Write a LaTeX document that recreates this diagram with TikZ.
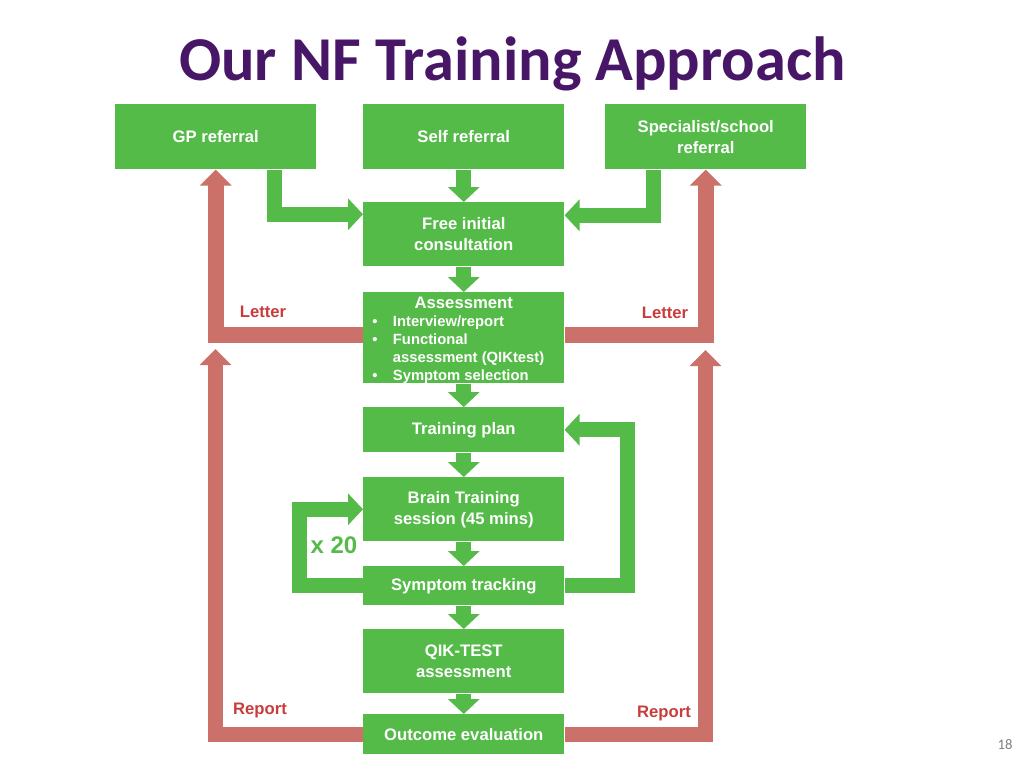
\documentclass[tikz,border=0pt]{standalone}
\usepackage{fontspec}
\setmainfont{Liberation Sans}
\newfontfamily\arialf{Liberation Sans}
\newfontfamily\calibf{Carlito}
\usetikzlibrary{arrows.meta}
\definecolor{ngreen}{RGB}{84,186,72}
\definecolor{nred}{RGB}{204,112,106}
\definecolor{tred}{RGB}{200,60,60}
\definecolor{npurple}{RGB}{72,22,102}
\tikzset{
  nbox/.style={fill=ngreen, text=white, font=\arialf\bfseries\fontsize{12.5}{15.75}\selectfont,
    minimum width=150.75pt, inner sep=0pt, align=center, anchor=north west},
  garrow/.style={draw=ngreen, line width=11.25pt, line join=miter, line cap=butt,
    -{Triangle[width=23.25pt,length=11.25pt]}},
  rarrow/.style={draw=nred, line width=11.6pt, line join=miter, line cap=butt,
    -{Triangle[width=23.25pt,length=12pt]}},
  rlabel/.style={text=tred, font=\arialf\bfseries\fontsize{12.5}{15}\selectfont, inner sep=0pt}
}
\begin{document}
\begin{tikzpicture}[x=0.75pt,y=-0.75pt]
\useasboundingbox (0,0) rectangle (1024,768);
% title
\node[anchor=base, inner sep=0pt, text=npurple, font=\calibf\bfseries\fontsize{46.8}{50}\selectfont] (title) at (512.5,80) {Our NF Training Approach};
% boxes
\node[nbox, minimum height=48.75pt] (gp) at (115,104) {GP referral};
\node[nbox, minimum height=48.75pt] (self) at (363,104) {Self referral};
\node[nbox, minimum height=48.75pt] (spec) at (605,104) {Specialist/school\\referral};
\node[nbox, minimum height=48pt] (free) at (363,202) {Free initial\\consultation};
\node[nbox, minimum height=68.25pt] (assess) at (363,292) {};
\node[anchor=north west, inner sep=0pt, text=white, text width=137.25pt, align=flush left,
  font=\arialf\bfseries\fontsize{11.1}{13.5}\selectfont] (assesstxt) at (372,296.5)
  {{\fontsize{12.5}{13.5}\selectfont\makebox[137.25pt]{Assessment}}\\
   \makebox[15.5pt][l]{\textbullet}Interview/report\\
   \makebox[15.5pt][l]{\textbullet}Functional\\
   \hspace*{15.5pt}assessment (QIKtest)\\
   \makebox[15.5pt][l]{\textbullet}Symptom selection};
\node[nbox, minimum height=33.75pt] (train) at (363,407) {Training plan};
\node[nbox, minimum height=48pt] (brain) at (363,477) {Brain Training\\session (45 mins)};
\node[nbox, minimum height=29.25pt] (sym) at (363,566) {Symptom tracking};
\node[nbox, minimum height=48pt] (qik) at (363,629) {QIK-TEST\\assessment};
\node[nbox, minimum height=30pt] (out) at (363,714) {Outcome evaluation};
% green arrows
\draw[garrow] (self.south) -- (free.north);
\draw[garrow] ([xshift=44pt]gp.south) |- ([yshift=15pt]free.west);
\draw[garrow] ([xshift=-39.4pt]spec.south) |- ([yshift=14.25pt]free.east);
\draw[garrow] (free.south) -- (assess.north);
\draw[garrow] (assess.south) -- (train.north);
\draw[garrow] (train.south) -- (brain.north);
\draw[garrow] (brain.south) -- (sym.north);
\draw[garrow] (sym.south) -- (qik.north);
\draw[garrow] (qik.south) -- (out.north);
\draw[garrow] (sym.east) -- ++(62.5,0) |- (train.east);
\draw[garrow] (sym.west) -- ++(-63.5,0) |- (brain.west);
\node[text=ngreen, font=\arialf\bfseries\fontsize{18}{20}\selectfont, inner sep=0pt] (x20) at (334,545) {x 20};
% red arrows
\coordinate (ltip) at (215.5,349);
\coordinate (rtip) at (705.5,350);
\draw[rarrow] ([yshift=2.25pt]assess.west) -| (gp.south);
\draw[rarrow] ([yshift=2.25pt]assess.east) -| (spec.south);
\draw[rarrow] (out.west) -| (ltip);
\draw[rarrow] (out.east) -| (rtip);
\node[rlabel] (l1) at (263,312) {Letter};
\node[rlabel] (l2) at (665,313) {Letter};
\node[rlabel] (r1) at (260,710) {Report};
\node[rlabel] (r2) at (664,713) {Report};
% page number
\node[text=gray, font=\calibf\fontsize{11}{12}\selectfont, inner sep=0pt] (pg) at (1005,745) {18};
\end{tikzpicture}
\end{document}
